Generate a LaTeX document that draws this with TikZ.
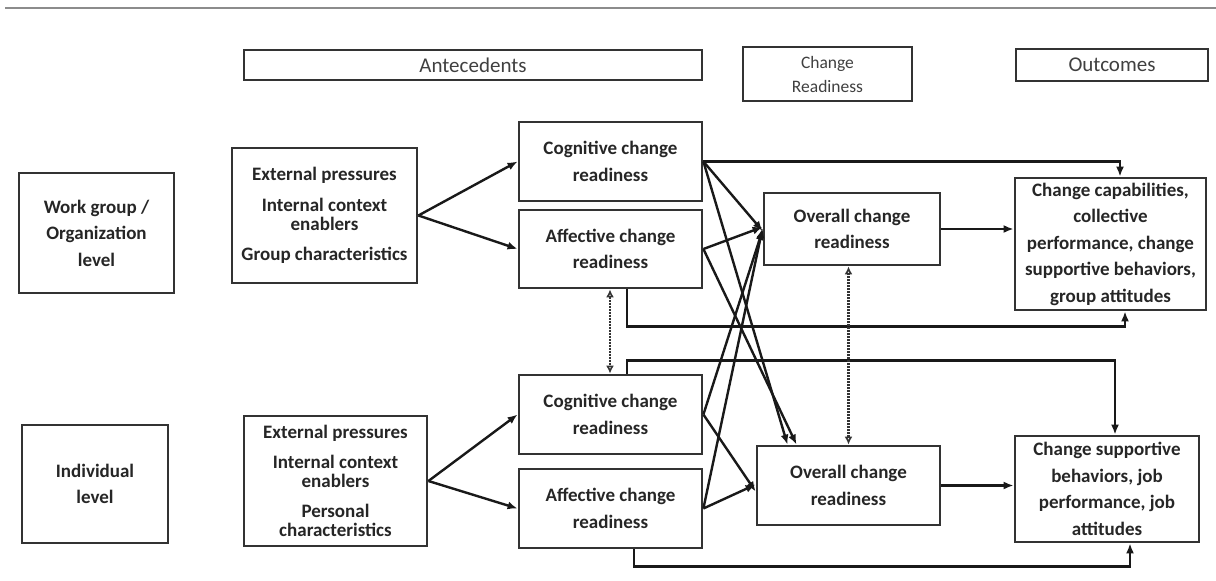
\documentclass[tikz,border=0pt]{standalone}
\usepackage{fontspec}
\setmainfont{Carlito}
\usetikzlibrary{arrows.meta,calc}
\begin{document}
\begin{tikzpicture}[x=1pt,y=-1pt,
  box/.style={draw=black!80, line width=2.8pt, align=center, inner sep=0pt,
    font=\bfseries\fontsize{19}{26.5}\selectfont, text=black!85},
  antbox/.style={box, font=\bfseries\fontsize{19}{19.5}\selectfont},
  hdr/.style={draw=black!80, line width=2.6pt, align=center, inner sep=0pt,
    font=\fontsize{21}{24}\selectfont, text=black!75},
  arr/.style={-{Latex[length=10pt,width=8pt]}, line width=2.4pt, black!90},
  dbl/.style={{Latex[open,length=8pt,width=8pt]}-{Latex[open,length=8pt,width=8pt]}, line width=2.6pt, black!80, dash pattern=on 2pt off 1pt}
]
\useasboundingbox (0,0) rectangle (1216,581);
\fill[white] (0,0) rectangle (1216,581);
\coordinate (rl) at (5,8);
\coordinate (rr) at (1216,8);
\draw[black!45, line width=1.5pt] (rl) -- (rr);

% headers
\node[hdr, minimum width=458, minimum height=30] (hA) at (473,65) {Antecedents};
\node[hdr, minimum width=169, minimum height=54, font=\fontsize{17.5}{24}\selectfont] (hC) at (827.5,74) {Change\\Readiness};
\node[hdr, minimum width=192, minimum height=32] (hO) at (1112,65) {Outcomes};

% top level
\node[box, minimum width=155, minimum height=120] (lvlT) at (96.5,233) {Work group /\\Organization\\level};
\node[antbox, minimum width=185, minimum height=135] (antT) at (324.5,215.5)
  {External pressures\\[11pt]Internal context\\enablers\\[10pt]Group characteristics};
\node[box, minimum width=183, minimum height=79] (cogT) at (610.5,161.5) {Cognitive change\\readiness};
\node[box, minimum width=183, minimum height=78] (affT) at (610.5,249) {Affective change\\readiness};
\node[box, minimum width=176, minimum height=72] (ovT) at (852,229) {Overall change\\readiness};
\node[box, minimum width=191, minimum height=132] (outT) at (1110.5,244)
  {Change capabilities,\\collective\\performance, change\\supportive behaviors,\\group attitudes};

% bottom level
\node[box, minimum width=146, minimum height=118] (lvlB) at (95,484) {Individual\\level};
\node[antbox, minimum width=183, minimum height=130] (antB) at (335.5,481)
  {External pressures\\[10pt]Internal context\\enablers\\[10pt]Personal\\characteristics};
\node[box, minimum width=183, minimum height=79] (cogB) at (610.5,414.5) {Cognitive change\\readiness};
\node[box, minimum width=183, minimum height=79] (affB) at (610.5,508.5) {Affective change\\readiness};
\node[box, minimum width=183, minimum height=79] (ovB) at (848.5,485.5) {Overall change\\readiness};
\node[box, minimum width=184, minimum height=106] (outB) at (1107,489)
  {Change supportive\\behaviors, job\\performance, job\\attitudes};

% antecedents to readiness
\draw[arr] (antT.east) -- (cogT.west);
\draw[arr] (antT.east) -- (affT.west);
\draw[arr] (antB.east) -- (cogB.west);
\draw[arr] (antB.east) -- (affB.west);

% crossing connectors
\draw[arr] (cogT.east) -- ([yshift=-2]ovT.west);
\draw[arr] (affT.east) -- ([yshift=2]ovT.west);
\draw[arr] (cogB.east) -- ([yshift=-1]ovT.west);
\draw[arr] (affB.east) -- ([yshift=1]ovT.west);
\draw[arr] (cogT.east) -- ([xshift=-61]ovB.north);
\draw[arr] (affT.east) -- ([xshift=-52]ovB.north);
\draw[arr] (cogB.east) -- ([yshift=-6]ovB.west);
\draw[arr] (affB.east) -- ([yshift=1]ovB.west);

% overall to outcomes
\draw[arr] (ovT.east) -- (ovT.east -| outT.west);
\draw[arr] (ovB.east) -- (ovB.east -| outB.west);

% routed lines
\draw[arr] (cogT.east) -| ([xshift=9.5]outT.north);
\draw[arr] ([xshift=16.5]affT.south) -- ++(0,37) -| ([xshift=14.5]outT.south);
\draw[arr] ([xshift=16.5]cogB.north) -- ++(0,-13) -| ([xshift=8]outB.north);
\draw[arr] ([xshift=23.5]affB.south) -- ++(0,17) -| ([xshift=23]outB.south);

% dotted double arrows
\draw[dbl] ([xshift=-0.5]affT.south) -- ([xshift=-0.5]cogB.north);
\draw[dbl] (ovB.north) -- (ovB.north |- ovT.south);
\end{tikzpicture}
\end{document}
